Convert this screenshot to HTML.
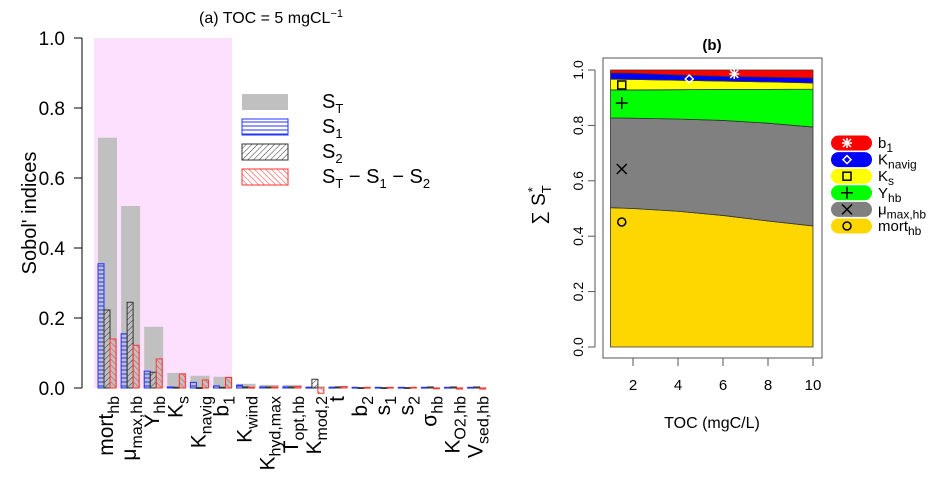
<!DOCTYPE html>
<html><head><meta charset="utf-8"><style>
body{margin:0;background:#fff;width:930px;height:481px;overflow:hidden}
svg{font-family:"Liberation Sans",Arial,sans-serif}
</style></head><body>
<svg id="c" width="930" height="481" viewBox="0 0 930 481">
<defs>
<pattern id="pb" width="6" height="4" patternUnits="userSpaceOnUse"><line x1="0" y1="2" x2="6" y2="2" stroke="#2233ff" stroke-width="1"/></pattern>
<pattern id="pk" width="4" height="4" patternUnits="userSpaceOnUse" patternTransform="rotate(45)"><line x1="0" y1="0" x2="0" y2="4" stroke="#333" stroke-width="1"/></pattern>
<pattern id="pr" width="4" height="4" patternUnits="userSpaceOnUse" patternTransform="rotate(-45)"><line x1="0" y1="0" x2="0" y2="4" stroke="#ff3333" stroke-width="1"/></pattern>
</defs>
<g id="ga"></g>
<g id="gb"></g>
</svg>
<script>
const cats=[["mort","hb"],["μ","max,hb"],["Y","hb"],["K","s"],["K","navig"],["b","1"],["K","wind"],["K","hyd,max"],["T","opt,hb"],["K","mod,2"],["t",""],["b","2"],["s","1"],["s","2"],["σ","hb"],["K","O2,hb"],["V","sed,hb"]];
const sT=[0.715,0.52,0.175,0.043,0.035,0.032,0.012,0.009,0.009,0.005,0.005,0.002,0.002,0.002,0.002,0.002,0.002];
const s1=[0.355,0.155,0.048,0.003,0.016,0.006,0.008,0.003,0.003,0.002,0.002,0.002,0.002,0.002,0.002,0.002,0.002];
const s2=[0.223,0.245,0.045,0.002,0.001,0.002,0.003,0.003,0.003,0.025,0.003,0.001,0.001,0.001,0.003,0.003,0.003];
const sR=[0.14,0.122,0.083,0.04,0.023,0.03,0.002,0.003,0.004,-0.015,0.004,0.002,0.002,0.002,-0.002,-0.003,-0.003];
const yTicksA=[0,0.2,0.4,0.6,0.8,1.0];

const tocX=[1,2,4,6,8,10];
const cumMort=[0.503,0.5,0.49,0.475,0.455,0.437];
const cumMu=[0.827,0.826,0.823,0.818,0.808,0.794];
const cumY=[0.928,0.928,0.929,0.93,0.93,0.931];
const cumKs=[0.967,0.966,0.963,0.96,0.957,0.953];
const cumKn=[0.989,0.988,0.982,0.977,0.974,0.971];
const cumB1=[1,1,1,1,1,1];
const xTicksB=[2,4,6,8,10];
const yTicksB=[0,0.2,0.4,0.6,0.8,1.0];

const NS="http://www.w3.org/2000/svg";
function mk(p,t,a,txt){const e=document.createElementNS(NS,t);for(const k in a)e.setAttribute(k,a[k]);if(txt!==undefined)e.textContent=txt;p.appendChild(e);return e;}
const ga=document.getElementById('ga'),gb=document.getElementById('gb');
// Panel A
const yA=v=>388-v*350;
const gx=i=>98+i*23.1;
let e=mk(ga,'rect',{x:94,y:38,width:138,height:350,fill:'#fde0fd'});

mk(ga,'line',{x1:82,y1:yA(0),x2:82,y2:yA(1),stroke:'#000'});
yTicksA.forEach(v=>{mk(ga,'line',{x1:74,y1:yA(v),x2:82,y2:yA(v),stroke:'#000'});
 e=mk(ga,'text',{x:65,y:yA(v)+7,'text-anchor':'end','font-size':19},v.toFixed(1));
 });
e=mk(ga,'text',{transform:'translate(36,213) rotate(-90)','text-anchor':'middle','font-size':20},"Sobol' indices");

e=mk(ga,'text',{x:199,y:23,'font-size':16});
e.innerHTML='(a)  TOC  =  5  mgCL<tspan dy="-6" font-size="11">−1</tspan>';

function bar(x,w,v,fill,stroke){const y0=yA(0),y1=yA(v);return mk(ga,'rect',{x:x,y:Math.min(y0,y1),width:w,height:Math.max(Math.abs(y0-y1),0.8),fill:fill,stroke:stroke||'none','stroke-width':1});}
cats.forEach((c,i)=>{const x=gx(i);
 e=bar(x,19,sT[i],'#c0c0c0');
 e=bar(x,6,s1[i],'url(#pb)','#2233ff');
 e=bar(x+6,6,s2[i],'url(#pk)','#333');
 e=bar(x+12,6,sR[i],'url(#pr)','#ff3333');
 e=mk(ga,'text',{transform:`translate(${x+15},396) rotate(-90)`,'text-anchor':'end','font-size':21});
 e.innerHTML=c[0]+(c[1]?`<tspan dy="6" font-size="16">${c[1]}</tspan>`:'');
 });
const leg=[['#c0c0c0','none','S<tspan dy="5" font-size="13">T</tspan>'],['url(#pb)','#2233ff','S<tspan dy="5" font-size="13">1</tspan>'],['url(#pk)','#333','S<tspan dy="5" font-size="13">2</tspan>'],['url(#pr)','#ff3333','S<tspan dy="5" font-size="13">T</tspan><tspan dy="-5"> − S</tspan><tspan dy="5" font-size="13">1</tspan><tspan dy="-5"> − S</tspan><tspan dy="5" font-size="13">2</tspan>']];
leg.forEach((l,i)=>{const y=94+i*25;
 e=mk(ga,'rect',{x:242,y:y,width:46,height:16,fill:l[0],stroke:l[1]});
 e=mk(ga,'text',{x:322,y:y+14,'font-size':20});e.innerHTML=l[2];});
// Panel B
const xB=v=>610.5+(v-1)*22.5, yB=v=>347-v*277;
mk(gb,'rect',{x:603,y:58,width:219,height:300,fill:'none',stroke:'#555'});
e=mk(gb,'text',{x:712,y:50,'text-anchor':'middle','font-size':15,'font-weight':'bold'},'(b)');

const layers=[[cumMort,null,'#ffd700'],[cumMu,cumMort,'#808080'],[cumY,cumMu,'#00ff00'],[cumKs,cumY,'#ffff00'],[cumKn,cumKs,'#0000ff'],[cumB1,cumKn,'#ff0000']];
const names=['area-mort','area-mumax','area-yhb','area-ks','area-knavig','area-b1'];
layers.forEach((L,j)=>{let d='';tocX.forEach((x,i)=>d+=(i?'L':'M')+xB(x)+','+yB(L[0][i]));
 for(let i=tocX.length-1;i>=0;i--)d+='L'+xB(tocX[i])+','+yB(L[1]?L[1][i]:0);
 e=mk(gb,'path',{d:d+'Z',fill:L[2],stroke:'#333','stroke-width':0.8});
 });
mk(gb,'line',{x1:595,y1:yB(0),x2:595,y2:yB(1),stroke:'#555'});
yTicksB.forEach(v=>{mk(gb,'line',{x1:588,y1:yB(v),x2:595,y2:yB(v),stroke:'#555'});
 e=mk(gb,'text',{transform:`translate(583,${yB(v)}) rotate(-90)`,'text-anchor':'middle','font-size':14},v.toFixed(1));
 });
mk(gb,'line',{x1:xB(2),y1:358,x2:xB(10),y2:358,stroke:'#555'});
xTicksB.forEach(v=>{mk(gb,'line',{x1:xB(v),y1:358,x2:xB(v),y2:366,stroke:'#555'});
 e=mk(gb,'text',{x:xB(v),y:390,'text-anchor':'middle','font-size':15},v);
 });
e=mk(gb,'text',{x:712,y:428,'text-anchor':'middle','font-size':16},'TOC (mgC/L)');

e=mk(gb,'text',{transform:'translate(545,205) rotate(-90)','text-anchor':'middle','font-size':19});
e.innerHTML='∑ S<tspan dy="6" font-size="13">T</tspan><tspan dx="-7" dy="-14" font-size="13">*</tspan>';

function marker(t,x,y,col){const s=5;let d;
 if(t=='o')return mk(gb,'circle',{cx:x,cy:y,r:4,fill:'none',stroke:col,'stroke-width':1.5});
 if(t=='x')d=`M${x-s},${y-s}L${x+s},${y+s}M${x-s},${y+s}L${x+s},${y-s}`;
 if(t=='+')d=`M${x-6},${y}L${x+6},${y}M${x},${y-6}L${x},${y+6}`;
 if(t=='s')return mk(gb,'rect',{x:x-4,y:y-4,width:8,height:8,fill:'none',stroke:col,'stroke-width':1.5});
 if(t=='d')d=`M${x},${y-4}L${x+4},${y}L${x},${y+4}L${x-4},${y}Z`;
 if(t=='*')d=`M${x-5},${y}L${x+5},${y}M${x},${y-5}L${x},${y+5}M${x-4},${y-4}L${x+4},${y+4}M${x-4},${y+4}L${x+4},${y-4}`;
 return mk(gb,'path',{d:d,fill:'none',stroke:col,'stroke-width':1.5});}
marker('o',xB(1.5),222,'#000');marker('x',xB(1.5),169,'#000');marker('+',xB(1.5),103,'#000');
marker('s',xB(1.5),85,'#000');marker('d',xB(4.5),79,'#fff');marker('*',xB(6.5),74,'#fff');
const lb=[['#ff0000','*','#fff','b','1'],['#0000ff','d','#fff','K','navig'],['#ffff00','s','#000','K','s'],['#00ff00','+','#000','Y','hb'],['#808080','x','#000','μ','max,hb'],['#ffd700','o','#000','mort','hb']];
lb.forEach((l,i)=>{const y=143+i*16.6;
 e=mk(gb,'rect',{x:831,y:y-7.5,width:41,height:15,rx:7.5,fill:l[0]});
 marker(l[1],847,y,l[2]);
 e=mk(gb,'text',{x:878,y:y+5,'font-size':15});e.innerHTML=l[3]+`<tspan dy="4" font-size="12">${l[4]}</tspan>`;
 });
</script>
</body></html>
